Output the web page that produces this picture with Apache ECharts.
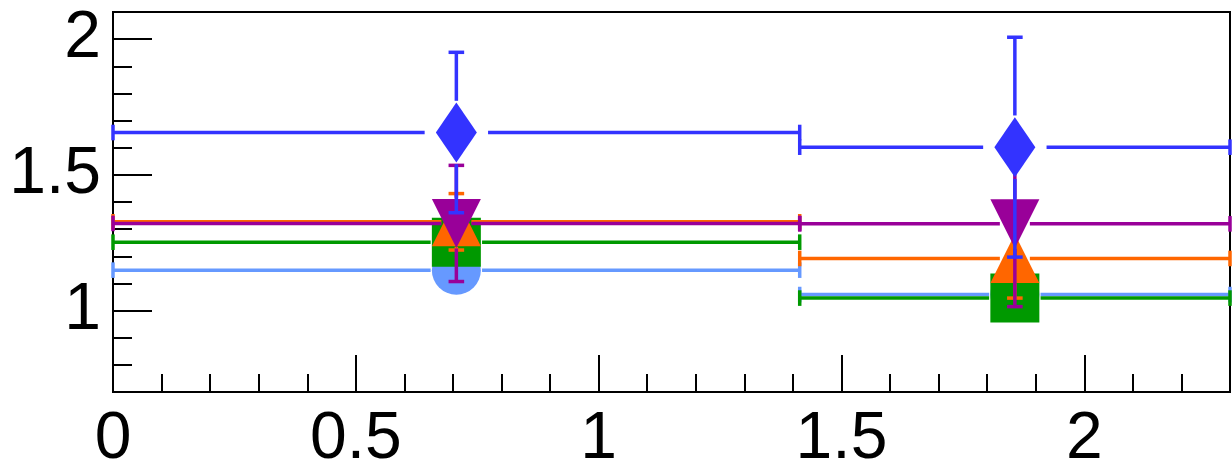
<!DOCTYPE html>
<html><head><meta charset="utf-8">
<script src="https://cdn.jsdelivr.net/npm/echarts@6/dist/echarts.min.js"></script>
<style>html,body{margin:0;padding:0;background:#fff;} #c{width:1232px;height:473px;}</style>
</head><body><div id="c"></div>
<script>
// ---- data ----
const xValues   = [0.707, 1.857];
const xErrLow   = [0.707, 0.443];
const xErrHigh  = [0.707, 0.443];
const lightBlueY   = [1.149, 1.059];
const lightBlueErr = [0.06, 0.05];
const greenY    = [1.252, 1.046];
const greenErr  = [0.07, 0.06];
const orangeY   = [1.327, 1.192];
const orangeErr = [0.104, 0.146];
const purpleY   = [1.321, 1.3195];
const purpleErr = [0.214, 0.305];
const blueY     = [1.656, 1.602];
const blueErr   = [0.2955, 0.405];
const xMajorTicks = [0, 0.5, 1, 1.5, 2];
const yMajorTicks = [1, 1.5, 2];
const xRange = [0, 2.3];
const yRange = [0.7, 2.1];

// minor tick positions (axis decoration, every 0.1 between majors)
function minorTicks(lo, hi, majors) {
  const out = [];
  for (let k = Math.ceil(lo * 10 + 1e-9); k <= Math.floor(hi * 10 - 1e-9); k++) {
    const v = Math.round(k) / 10;
    if (!majors.some(m => Math.abs(m - v) < 1e-9)) out.push(v);
  }
  return out;
}
const xMinorTicks = minorTicks(xRange[0], xRange[1], xMajorTicks);
const yMinorTicks = minorTicks(yRange[0], yRange[1], yMajorTicks);

const FONT = 'Liberation Sans, Arial, Helvetica, sans-serif';

function makeSeries(name, ys, errs, color, marker, gapX, gapY) {
  const data = xValues.map((x, i) => [x, ys[i], xErrLow[i], xErrHigh[i], errs[i]]);
  return {
    type: 'custom', name, data, clip: false, silent: true,
    encode: { x: 0, y: 1 },
    renderItem(params, api) {
      const x = api.value(0), y = api.value(1), xl = api.value(2), xh = api.value(3), e = api.value(4);
      const c = api.coord([x, y]);
      const pl = api.coord([x - xl, y]);
      const ph = api.coord([x + xh, y]);
      const pt = api.coord([x, y + e]);
      const pb = api.coord([x, y - e]);
      const children = [];
      const st = { stroke: color, lineWidth: 3.5, fill: null };
      const line = (x1, y1, x2, y2) => children.push({ type: 'line', shape: { x1, y1, x2, y2 }, style: st });
      const cap = 7.8;
      if (c[0] - pl[0] > gapX) { line(pl[0], c[1], c[0] - gapX, c[1]); line(pl[0], c[1] - cap, pl[0], c[1] + cap); }
      if (ph[0] - c[0] > gapX) { line(c[0] + gapX, c[1], ph[0], c[1]); line(ph[0], c[1] - cap, ph[0], c[1] + cap); }
      if (c[1] - pt[1] > gapY) { line(c[0], pt[1], c[0], c[1] - gapY); line(c[0] - cap, pt[1], c[0] + cap, pt[1]); }
      if (pb[1] - c[1] > gapY) { line(c[0], c[1] + gapY, c[0], pb[1]); line(c[0] - cap, pb[1], c[0] + cap, pb[1]); }
      const fs = { fill: color };
      const cx = c[0], cy = c[1], s = 24.5;
      if (marker === 'circle') children.push({ type: 'circle', shape: { cx, cy, r: s }, style: fs });
      else if (marker === 'square') children.push({ type: 'rect', shape: { x: cx - s, y: cy - s, width: 2 * s, height: 2 * s }, style: fs });
      else if (marker === 'up') children.push({ type: 'polygon', shape: { points: [[cx - s, cy + s], [cx + s, cy + s], [cx, cy - s]] }, style: fs });
      else if (marker === 'down') children.push({ type: 'polygon', shape: { points: [[cx - s, cy - s], [cx + s, cy - s], [cx, cy + s]] }, style: fs });
      else if (marker === 'diamond') children.push({ type: 'polygon', shape: { points: [[cx, cy - 30], [cx + 20.5, cy], [cx, cy + 30], [cx - 20.5, cy]] }, style: fs });
      return { type: 'group', children };
    }
  };
}

const chart = echarts.init(document.getElementById('c'), null, { renderer: 'canvas' });
const axisLineStyle = { color: '#000', width: 2 };
chart.setOption({
  animation: false,
  backgroundColor: '#fff',
  grid: { left: 113, right: 2, top: 12, bottom: 81, show: true, borderColor: '#000', borderWidth: 2, backgroundColor: 'transparent' },
  xAxis: [
    { type: 'value', min: xRange[0], max: xRange[1], position: 'bottom',
      axisLine: { show: true, lineStyle: axisLineStyle },
      axisTick: { show: true, inside: true, length: 37, customValues: xMajorTicks, lineStyle: axisLineStyle },
      axisLabel: { show: true, customValues: xMajorTicks, fontSize: 66, fontFamily: FONT, color: '#000', margin: 15 },
      splitLine: { show: false } },
    { type: 'value', min: xRange[0], max: xRange[1], position: 'bottom',
      axisLine: { show: false },
      axisTick: { show: true, inside: true, length: 18, customValues: xMinorTicks, lineStyle: axisLineStyle },
      axisLabel: { show: false }, splitLine: { show: false } }
  ],
  yAxis: [
    { type: 'value', min: yRange[0], max: yRange[1], position: 'left',
      axisLine: { show: true, lineStyle: axisLineStyle },
      axisTick: { show: true, inside: true, length: 39, customValues: yMajorTicks, lineStyle: axisLineStyle },
      axisLabel: { show: true, customValues: yMajorTicks, fontSize: 66, fontFamily: FONT, color: '#000', margin: 12, padding: [8, 0, 0, 0] },
      splitLine: { show: false } },
    { type: 'value', min: yRange[0], max: yRange[1], position: 'left',
      axisLine: { show: false },
      axisTick: { show: true, inside: true, length: 19, customValues: yMinorTicks, lineStyle: axisLineStyle },
      axisLabel: { show: false }, splitLine: { show: false } }
  ],
  series: [
    makeSeries('lightblue', lightBlueY, lightBlueErr, '#6699ff', 'circle', 25.7, 25.7),
    makeSeries('green', greenY, greenErr, '#009900', 'square', 25.7, 25.7),
    makeSeries('orange', orangeY, orangeErr, '#ff6600', 'up', 15, 25),
    makeSeries('purple', purpleY, purpleErr, '#990099', 'down', 15, 25),
    makeSeries('blue', blueY, blueErr, '#3333ff', 'diamond', 31.7, 31.7)
  ]
});
</script>
</body></html>
